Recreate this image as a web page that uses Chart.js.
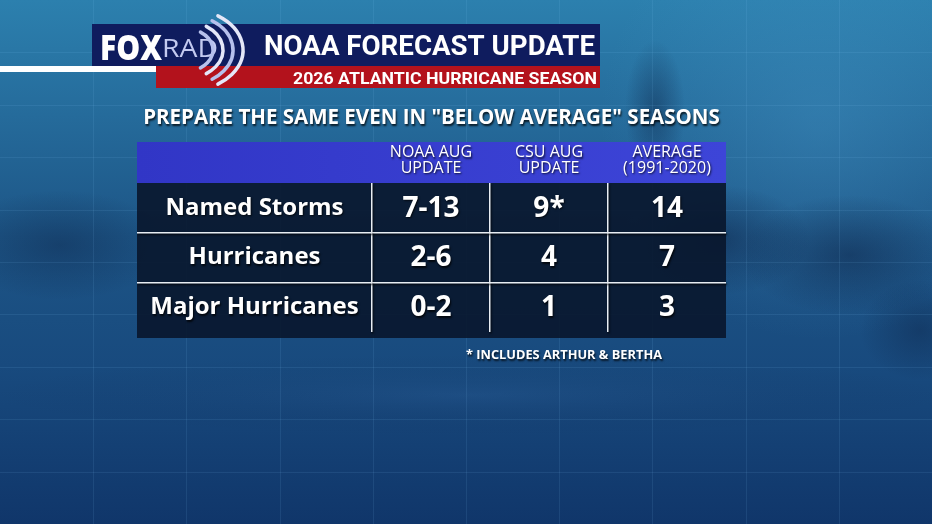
<!DOCTYPE html>
<html>
<head>
<meta charset="utf-8">
<title>NOAA Forecast Update - 2026 Atlantic Hurricane Season</title>
<script src="https://cdn.jsdelivr.net/npm/chart.js@4.4.1/dist/chart.umd.min.js"></script>
<style>
  html, body { margin: 0; padding: 0; background: #163f6b; overflow: hidden; }
  canvas { display: block; }
</style>
</head>
<body>
<canvas id="hurricaneTable" width="932" height="524"></canvas>
<script>
// Table contents
const rowLabels = ["Named Storms", "Hurricanes", "Major Hurricanes"];
const columnKeys = ["NOAA AUG UPDATE", "CSU AUG UPDATE", "AVERAGE (1991-2020)"];
const columnHeaders = [["NOAA AUG", "UPDATE"], ["CSU AUG", "UPDATE"], ["AVERAGE", "(1991-2020)"]];
const noaaAug = ["7-13", "2-6", "0-2"];
const csuAug = ["9*", "4", "1"];
const average = ["14", "7", "3"];
const titleText = 'PREPARE THE SAME EVEN IN "BELOW AVERAGE" SEASONS';
const footnoteText = "* INCLUDES ARTHUR & BERTHA";

const FONT = '"Open Sans", "DejaVu Sans", sans-serif';
const LABEL_COL = 235;
const LABEL_SIZE = 24;

// widest row label, so the labels can be centred in the first column
const measure = document.createElement("canvas").getContext("2d");
measure.font = `bold ${LABEL_SIZE}px ${FONT}`;
const widestLabel = Math.max(...rowLabels.map((l) => measure.measureText(l).width));

// draw text squeezed/stretched to a given width (left edge at x)
function fitText(ctx, text, x, y, width, font, color) {
  ctx.save();
  ctx.font = font;
  ctx.fillStyle = color;
  ctx.textAlign = "left";
  ctx.textBaseline = "alphabetic";
  const w = ctx.measureText(text).width;
  ctx.translate(x, y);
  ctx.scale(width / w, 1);
  ctx.fillText(text, 0, 0);
  ctx.restore();
}

function softBlob(ctx, x, y, rx, ry, color) {
  ctx.save();
  ctx.translate(x, y);
  ctx.scale(1, ry / rx);
  const b = ctx.createRadialGradient(0, 0, 0, 0, 0, rx);
  b.addColorStop(0, color);
  b.addColorStop(1, "rgba(12, 34, 70, 0)");
  ctx.fillStyle = b;
  ctx.fillRect(-rx, -rx, rx * 2, rx * 2);
  ctx.restore();
}

function drawBackground(ctx, width, height) {
  const g = ctx.createLinearGradient(0, 0, 0, height);
  g.addColorStop(0, "#2c80ae");
  g.addColorStop(0.22, "#256b9b");
  g.addColorStop(0.45, "#1d5586");
  g.addColorStop(0.7, "#184a7e");
  g.addColorStop(1, "#10366a");
  ctx.fillStyle = g;
  ctx.fillRect(0, 0, width, height);

  // soft haze, top right
  const r = ctx.createRadialGradient(820, 120, 10, 820, 120, 220);
  r.addColorStop(0, "rgba(70, 150, 200, 0.35)");
  r.addColorStop(1, "rgba(70, 150, 200, 0)");
  ctx.fillStyle = r;
  ctx.fillRect(0, 0, width, height);

  // dark tree masses
  softBlob(ctx, 655, 110, 30, 70, "rgba(14, 38, 74, 0.45)");
  softBlob(ctx, 720, 240, 90, 55, "rgba(12, 34, 70, 0.5)");
  softBlob(ctx, 850, 255, 110, 60, "rgba(12, 34, 70, 0.5)");
  softBlob(ctx, 60, 245, 110, 55, "rgba(12, 34, 70, 0.4)");
  softBlob(ctx, 920, 330, 60, 50, "rgba(12, 34, 70, 0.4)");
  // lighter band behind the footnote
  softBlob(ctx, 470, 395, 480, 40, "rgba(60, 110, 170, 0.18)");

  // faint broadcast grid
  ctx.strokeStyle = "rgba(140, 210, 255, 0.10)";
  ctx.lineWidth = 1;
  for (let i = 1; i < 10; i++) {
    const x = Math.round(i * width / 10) + 0.5;
    ctx.beginPath(); ctx.moveTo(x, 0); ctx.lineTo(x, height); ctx.stroke();
    const y = Math.round(i * height / 10) + 0.5;
    ctx.beginPath(); ctx.moveTo(0, y); ctx.lineTo(width, y); ctx.stroke();
  }
}

function drawBanner(ctx) {
  // white rule on the left
  ctx.fillStyle = "#ffffff";
  ctx.fillRect(0, 66, 156, 6);
  // navy and red bars
  ctx.fillStyle = "#0f1c5e";
  ctx.fillRect(92, 24, 508, 42);
  ctx.fillStyle = "#b3121c";
  ctx.fillRect(156, 66, 444, 22);

  fitText(ctx, "FOX", 100, 60, 62, `900 35px ${FONT}`, "#ffffff");
  fitText(ctx, "RAD", 162, 57, 56, `26px ${FONT}`, "#c3caf0");

  // radar arcs
  ctx.save();
  ctx.lineCap = "round";
  [[30, 22], [40, 29], [50, 36], [60, 42]].forEach(([rx, ry], i) => {
    ctx.strokeStyle = i % 2 ? "#e4e7f8" : "#b6c0ec";
    ctx.lineWidth = 3.5;
    ctx.beginPath();
    ctx.ellipse(183, 50, rx, ry, 0, -0.95, 0.95);
    ctx.stroke();
  });
  ctx.restore();

  fitText(ctx, "NOAA FORECAST UPDATE", 264, 55, 331, `bold 27px Roboto, ${FONT}`, "#ffffff");
  fitText(ctx, "2026 ATLANTIC HURRICANE SEASON", 293, 84, 304, `bold 17px Roboto, ${FONT}`, "#ffffff");
}

const broadcastPlugin = {
  id: "broadcast",
  beforeDraw(chart) {
    const { ctx, width, height, chartArea } = chart;
    const xScale = chart.scales.x;
    const yScale = chart.scales.y;
    ctx.save();
    drawBackground(ctx, width, height);
    drawBanner(ctx);

    // table body panel and header strip
    const left = yScale.left;
    const right = chartArea.right;
    ctx.fillStyle = "rgba(9, 22, 44, 0.9)";
    ctx.fillRect(left, chartArea.top, right - left, chartArea.bottom + 6 - chartArea.top);
    const hg = ctx.createLinearGradient(left, 0, right, 0);
    hg.addColorStop(0, "#3136c6");
    hg.addColorStop(1, "#3d45d8");
    ctx.fillStyle = hg;
    ctx.fillRect(left, xScale.top, right - left, xScale.bottom - xScale.top);
    ctx.restore();

    // everything the chart writes from here on gets the broadcast drop shadow
    ctx.shadowColor = "rgba(0, 0, 0, 0.75)";
    ctx.shadowOffsetX = 1;
    ctx.shadowOffsetY = 1.5;
    ctx.shadowBlur = 2;
  },
  afterDatasetsDraw(chart) {
    const { ctx } = chart;
    ctx.save();
    ctx.fillStyle = "#ffffff";
    ctx.font = `bold 28px ${FONT}`;
    ctx.textAlign = "center";
    ctx.textBaseline = "middle";
    chart.data.datasets.forEach((ds, di) => {
      chart.getDatasetMeta(di).data.forEach((pt, i) => {
        ctx.fillText(ds.data[i].value, pt.x, pt.y + 1);
      });
    });
    ctx.restore();
  },
  afterDraw(chart) {
    const { ctx } = chart;
    ctx.save();
    fitText(ctx, footnoteText, 466, 359, 196, `bold 13px ${FONT}`, "#ffffff");
    ctx.restore();
    ctx.shadowColor = "rgba(0, 0, 0, 0)";
    ctx.shadowOffsetX = 0;
    ctx.shadowOffsetY = 0;
    ctx.shadowBlur = 0;
  }
};

const columns = [noaaAug, csuAug, average];
const datasets = columns.map((values, c) => ({
  label: columnKeys[c],
  data: values.map((v, r) => ({ x: columnKeys[c], y: rowLabels[r], value: v })),
  showLine: false,
  pointRadius: 0,
  pointHoverRadius: 0
}));

const lineColor = "#e8edf3";

new Chart(document.getElementById("hurricaneTable"), {
  type: "line",
  data: { labels: columnKeys, datasets: datasets },
  options: {
    responsive: false,
    animation: false,
    events: [],
    layout: { padding: { left: 137, right: 206, top: 96, bottom: 192 } },
    plugins: {
      legend: { display: false },
      tooltip: { enabled: false },
      title: {
        display: true,
        text: titleText,
        color: "#ffffff",
        font: { family: FONT, size: 20.5, weight: "bold" },
        padding: { top: 10, bottom: 11.4 }
      }
    },
    scales: {
      x: {
        type: "category",
        labels: columnKeys,
        position: "top",
        offset: true,
        grid: {
          offset: true,
          drawTicks: false,
          lineWidth: 1.5,
          color: (c) => (c.index === undefined ? "rgba(0,0,0,0)" : lineColor)
        },
        border: { display: false },
        ticks: {
          callback: (v, i) => columnHeaders[i],
          color: "#ffffff",
          font: { family: FONT, size: 16, lineHeight: 0.97 },
          padding: 7,
          maxRotation: 0,
          autoSkip: false
        },
        afterFit: (scale) => { scale.height = 41; }
      },
      y: {
        type: "category",
        labels: rowLabels,
        position: "left",
        offset: true,
        grid: {
          offset: true,
          drawTicks: true,
          tickLength: LABEL_COL,
          lineWidth: 1.5,
          color: (c) => (c.index > 0 ? lineColor : "rgba(0,0,0,0)")
        },
        border: { display: false },
        ticks: {
          crossAlign: "center",
          padding: LABEL_COL / 2 - widestLabel / 2 - LABEL_COL,
          color: "#ffffff",
          font: { family: FONT, size: LABEL_SIZE, weight: "bold" },
          autoSkip: false
        },
        afterFit: (scale) => { scale.width = LABEL_COL; }
      }
    }
  },
  plugins: [broadcastPlugin]
});
</script>
</body>
</html>
